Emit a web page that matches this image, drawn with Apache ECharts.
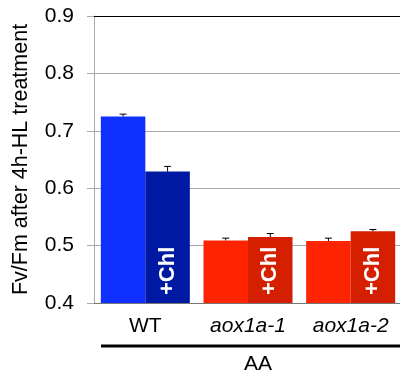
<!DOCTYPE html>
<html>
<head>
<meta charset="utf-8">
<script src="https://cdn.jsdelivr.net/npm/echarts@6/dist/echarts.min.js"></script>
<style>
html,body{margin:0;padding:0;background:#fff;}
#chart{width:400px;height:372px;}
</style>
</head>
<body>
<div id="chart"></div>
<script>
// ---- data ----
var categories = ['WT', 'aox1a-1', 'aox1a-2'];
var controlValues = [0.725, 0.509, 0.508];
var controlErrors = [0.004, 0.004, 0.005];
var chlValues = [0.629, 0.515, 0.525];
var chlErrors = [0.009, 0.006, 0.003];
var yTickLabels = ['0.4', '0.5', '0.6', '0.7', '0.8', '0.9'];
var groupLabel = 'AA';
var chlLabel = '+Chl';

var controlColors = ['#1030FF', '#FF2400', '#FF2400'];
var chlColors = ['#0019A2', '#D42000', '#D42000'];

var CAT_GAP = 0.133;
var FONT = 'Liberation Sans, Arial, sans-serif';

function errorSeries(values, errors, side) {
  var data = values.map(function (v, i) { return [i, v, v + errors[i]]; });
  return {
    type: 'custom',
    xAxisIndex: 0,
    yAxisIndex: 0,
    z: 5,
    silent: true,
    data: data,
    renderItem: function (params, api) {
      var idx = api.value(0);
      var band = api.size([1, 0])[0];
      var bw = band * (1 - CAT_GAP) / 2;
      var top = api.coord([idx, api.value(1)]);
      var hi = api.coord([idx, api.value(2)]);
      var x = top[0] + side * bw / 2;
      var cap = 3.5;
      return {
        type: 'group',
        children: [
          { type: 'line', shape: { x1: x, y1: top[1], x2: x, y2: hi[1] }, style: { stroke: '#000', lineWidth: 1 } },
          { type: 'line', shape: { x1: x - cap, y1: hi[1], x2: x + cap, y2: hi[1] }, style: { stroke: '#000', lineWidth: 1 } }
        ]
      };
    }
  };
}

var chart = echarts.init(document.getElementById('chart'), null, { renderer: 'canvas' });
var option = {
  animation: false,
  backgroundColor: '#fff',
  grid: { left: 94, right: -2, top: 16, bottom: 69, containLabel: false, outerBoundsMode: 'none' },
  xAxis: [{
    type: 'category',
    data: categories,
    position: 'bottom',
    axisLine: { show: true, lineStyle: { color: '#777', width: 1 } },
    axisTick: { show: false },
    axisLabel: {
      interval: 0,
      margin: 13,
      fontSize: 21,
      fontFamily: FONT,
      color: '#000',
      formatter: function (v) { return v === 'WT' ? '{n|' + v + '}' : '{i|' + v + '}'; },
      rich: {
        n: { fontSize: 21, fontFamily: FONT, color: '#000' },
        i: { fontSize: 21, fontStyle: 'italic', fontFamily: FONT, color: '#000' }
      }
    }
  }, {
    type: 'category',
    data: categories,
    position: 'top',
    axisLine: { show: true, lineStyle: { color: '#000', width: 1 } },
    axisTick: { show: false },
    axisLabel: { show: false }
  }],
  yAxis: {
    type: 'value',
    min: 0.4,
    max: 0.9,
    interval: 0.1,
    name: 'Fv/Fm after 4h-HL treatment',
    nameLocation: 'middle',
    nameGap: 62,
    nameTextStyle: { fontSize: 21.5, color: '#000', fontFamily: FONT },
    axisLine: { show: true, lineStyle: { color: '#aaa', width: 1 } },
    axisTick: { show: true, length: 7, lineStyle: { color: '#aaa' } },
    axisLabel: {
      margin: 20,
      fontSize: 21,
      color: '#000',
      fontFamily: FONT,
      formatter: function (v) {
        var i = Math.round((v - 0.4) / 0.1);
        return yTickLabels[i];
      }
    },
    splitLine: { show: true, lineStyle: { color: '#aaa', width: 1 } }
  },
  series: [{
    type: 'bar',
    data: controlValues.map(function (v, i) { return { value: v, itemStyle: { color: controlColors[i] } }; }),
    barGap: '0%',
    barCategoryGap: (CAT_GAP * 100) + '%',
    z: 2
  }, {
    type: 'bar',
    data: chlValues.map(function (v, i) { return { value: v, itemStyle: { color: chlColors[i] } }; }),
    barGap: '0%',
    barCategoryGap: (CAT_GAP * 100) + '%',
    z: 2,
    label: {
      show: true,
      position: 'insideBottom',
      rotate: 90,
      align: 'left',
      verticalAlign: 'middle',
      distance: 8,
      formatter: function () { return chlLabel; },
      color: '#fff',
      fontSize: 22,
      fontWeight: 'bold',
      fontFamily: FONT
    }
  },
  errorSeries(controlValues, controlErrors, -1),
  errorSeries(chlValues, chlErrors, 1)
  ],
  graphic: [{
    type: 'line',
    shape: { x1: 101, y1: 346, x2: 402, y2: 346 },
    style: { stroke: '#000', lineWidth: 3 }
  }, {
    type: 'text',
    x: 258,
    y: 354,
    style: {
      text: groupLabel,
      fill: '#000',
      fontSize: 21,
      fontFamily: FONT,
      align: 'center',
      verticalAlign: 'top'
    }
  }]
};
chart.setOption(option);
</script>
</body>
</html>
